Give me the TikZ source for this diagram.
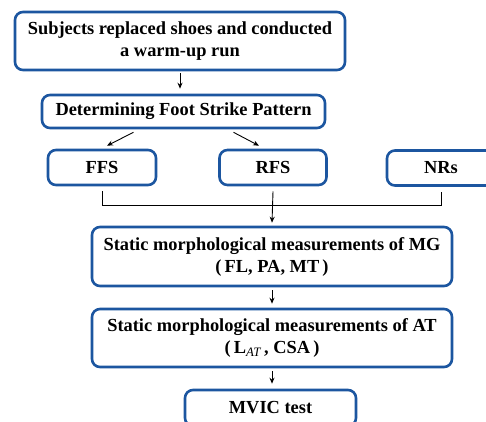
\documentclass[tikz,border=0pt]{standalone}
\usepackage{fontspec}
\setmainfont{Liberation Serif}
\usetikzlibrary{positioning,calc,arrows.meta}
\definecolor{boxblue}{RGB}{28,86,160}

\begin{document}
\begin{tikzpicture}[
    x=1pt, y=-1pt,
    >={Stealth[length=6pt,width=5pt]},
    step box/.style={draw=boxblue, line width=2.6pt, rounded corners=8pt,
                     fill=white, align=center, inner sep=0pt,
                     font=\fontsize{18.4}{22}\selectfont\bfseries},
    flow/.style={->, line width=0.9pt, black},
    link/.style={line width=0.9pt, black},
]
\useasboundingbox (0,0) rectangle (486,421);

% --- preparation ---
\node[step box, minimum width=330pt, minimum height=58pt] (warmup) at (180,41)
    {Subjects replaced shoes and conducted\\a warm-up run};
\node[step box, minimum width=283pt, minimum height=33pt] (fsp) at (183.5,111.5)
    {Determining Foot Strike Pattern};

\draw[flow] ([yshift=-2pt]warmup.south) -- ([yshift=5pt]warmup.south |- fsp.north);

% --- foot strike groups ---
\node[step box, minimum width=108pt, minimum height=35pt] (ffs) at (102,167.5) {FFS};
\node[step box, minimum width=107pt, minimum height=35pt] (rfs) at (273,167.5) {RFS};
\node[step box, minimum width=108pt, minimum height=35pt] (nrs) at (441,168) {NRs};

\draw[flow] ([xshift=-50pt,yshift=-3pt]fsp.south) -- ([xshift=5pt,yshift=3pt]ffs.north);
\draw[flow] ([xshift=50pt,yshift=-3pt]fsp.south) -- ([xshift=-14pt,yshift=3pt]rfs.north);

% --- measurements ---
\node[step box, minimum width=360pt, minimum height=59pt] (mg) at (272,256.5)
    {Static morphological measurements of MG\\(\,FL, PA, MT\,)};
\node[step box, minimum width=360pt, minimum height=58pt] (at) at (272,338)
    {Static morphological measurements of AT\\(\,L\textsubscript{\normalfont\itshape AT}\,, CSA\,)};
\node[step box, minimum width=171pt, minimum height=36pt] (mvic) at (270.5,408)
    {MVIC test};

% merge line
\coordinate (bus) at (272,205);
\draw[link] ([yshift=-5pt]ffs.south) -- (ffs.south |- bus) -- (nrs.south |- bus)
    -- ([yshift=-5pt]nrs.south);
\draw[flow] ([yshift=-5pt]rfs.south) -- ([yshift=3pt]mg.north);

\draw[flow] ([yshift=-3pt]mg.south) -- ([yshift=4pt]at.north);
\draw[flow] ([yshift=-3pt]at.south) -- ([yshift=5pt]at.south |- mvic.north);

\end{tikzpicture}
\end{document}
